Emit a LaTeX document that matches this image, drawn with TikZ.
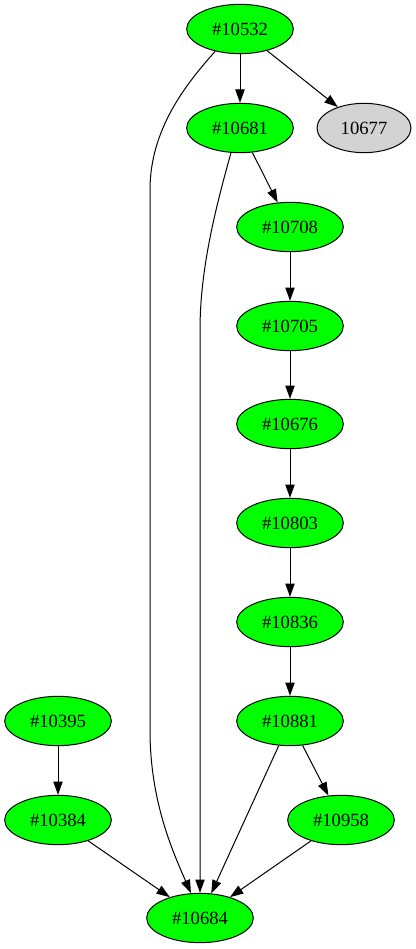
\documentclass[tikz,border=0pt]{standalone}
\usepackage{fontspec}
\setmainfont{Liberation Serif}
\usetikzlibrary{shapes.geometric,arrows.meta}
\definecolor{gvgreen}{RGB}{0,255,0}
\definecolor{gvgray}{RGB}{211,211,211}
\begin{document}
\begin{tikzpicture}[x=0.75pt,y=-0.75pt,
  nd/.style={ellipse,draw,line width=0.75pt,fill=gvgreen,minimum width=80pt,minimum height=37pt,inner sep=0pt,font=\fontsize{14}{16}\selectfont},
  gnd/.style={nd,fill=gvgray,minimum width=70.5pt},
  edge/.style={line width=0.75pt,-{Triangle[length=10pt,width=7pt]}}]
\useasboundingbox (0,0) rectangle (416,949);
\node[nd] (n10532) at (240,29) {\#10532};
\node[nd] (n10681) at (240,128) {\#10681};
\node[gnd] (n10677) at (364,128) {10677};
\node[nd] (n10708) at (290,227) {\#10708};
\node[nd] (n10705) at (290,326) {\#10705};
\node[nd] (n10676) at (290,424) {\#10676};
\node[nd] (n10803) at (290,523) {\#10803};
\node[nd] (n10836) at (290,622) {\#10836};
\node[nd] (n10881) at (290,721) {\#10881};
\node[nd] (n10395) at (58,721) {\#10395};
\node[nd] (n10384) at (58,820) {\#10384};
\node[nd] (n10958) at (341,820) {\#10958};
\node[nd] (n10684) at (200,918) {\#10684};
\draw[edge] (n10532) -- (n10681);
\draw[edge] (n10532) -- (n10677);
\draw[edge] (n10532.222) .. controls (185,85) and (150,130) .. (150,190) -- (150,730) .. controls (150,800) and (172,850) .. (n10684.110);
\draw[edge] (n10681.250) .. controls (215,210) and (200,270) .. (200,330) -- (n10684.north);
\draw[edge] (n10681) -- (n10708);
\draw[edge] (n10708) -- (n10705);
\draw[edge] (n10705) -- (n10676);
\draw[edge] (n10676) -- (n10803);
\draw[edge] (n10803) -- (n10836);
\draw[edge] (n10836) -- (n10881);
\draw[edge] (n10881) -- (n10684);
\draw[edge] (n10881) -- (n10958);
\draw[edge] (n10395) -- (n10384);
\draw[edge] (n10384) -- (n10684);
\draw[edge] (n10958) -- (n10684);
\end{tikzpicture}
\end{document}
